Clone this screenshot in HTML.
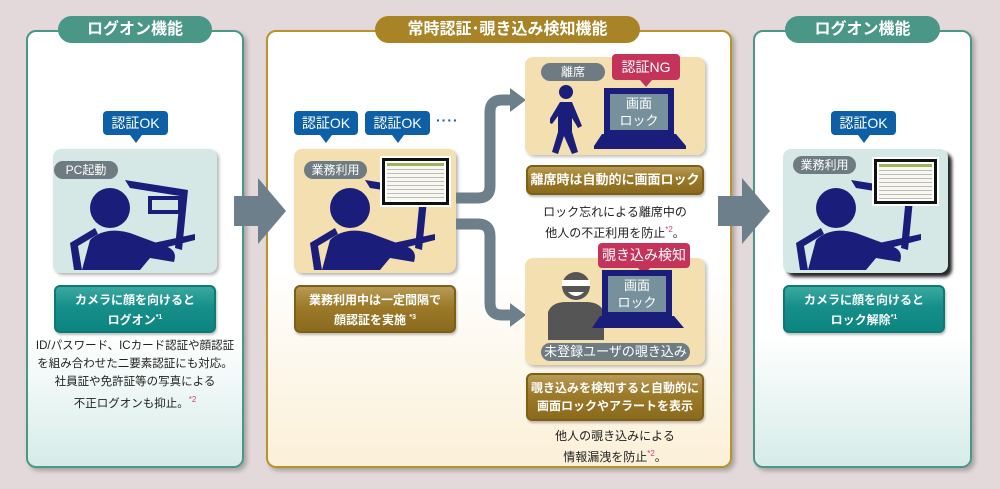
<!DOCTYPE html>
<html><head><meta charset="utf-8"><style>
*{margin:0;padding:0;box-sizing:border-box}
body{width:1000px;height:489px;background:#e3d9da;position:relative;overflow:hidden;font-family:"Liberation Sans","Noto Sans CJK JP",sans-serif}
.a{position:absolute}
.panel{position:absolute;border-radius:10px;box-shadow:3px 3px 4px rgba(0,0,0,.25)}
.title{position:absolute;height:27px;border-radius:14px;color:#fff;font-weight:bold;font-size:16px;text-align:center;line-height:27px}
.ok{position:absolute;height:24px;background:#0d5fa6;color:#fff;border-radius:4px;font-size:14px;text-align:center;line-height:24px}
.ok:after{content:"";position:absolute;left:50%;bottom:-8px;margin-left:-6px;border-left:6px solid transparent;border-right:6px solid transparent;border-top:8px solid #0d5fa6}
.pill{position:absolute;height:18px;border-radius:9px;background:#6e7b82;color:#fff;font-size:12px;text-align:center;line-height:18px}
.btn{position:absolute;border-radius:6px;color:#fff;font-weight:bold;font-size:12px;text-align:center;line-height:18px;box-shadow:1px 2px 2px rgba(0,0,0,.25);white-space:nowrap}
.teal{background:linear-gradient(#3ba8a0 0,#168f8a 45%,#0c8580 100%);border:2px solid #0e7a76}
.gold{background:linear-gradient(#b89a55 0,#9c7a28 45%,#8a6a1e 100%);border:2px solid #7d5f16}
.txt{position:absolute;font-size:12px;color:#222;text-align:center;line-height:18px;white-space:nowrap}
.txt sup{color:#d0407a;font-size:8px}
.shot{position:absolute;background:#fff;border:3px solid #111;outline:2px solid #fff}
.shot i{position:absolute;left:2px;right:2px;top:2px;bottom:2px;background:repeating-linear-gradient(#f8f8f0 0 3px,#bbb 3px 4px);border-top:3px solid #9cb45a}
.pink{position:absolute;background:#c4335a;color:#fff;border-radius:4px;font-size:14px;text-align:center}
.pink:after{content:"";position:absolute;left:50%;bottom:-7px;margin-left:-6px;border-left:6px solid transparent;border-right:6px solid transparent;border-top:7px solid #c4335a}
</style></head><body>

<!-- left panel -->
<div class="panel" style="left:26px;top:30px;width:218px;height:438px;border:2px solid #4a9788;background:linear-gradient(#fff 0,#fff 70%,#d6ece8 100%)"></div>
<div class="title" style="left:58px;top:16px;width:154px;background:#4a9788">ログオン機能</div>
<div class="ok" style="left:103px;top:111px;width:65px">認証OK</div>
<div class="a" style="left:53px;top:149px;width:164px;height:124px;background:#d6e8e6;border-radius:8px;box-shadow:2px 2px 3px rgba(0,0,0,.3)"></div>
<div class="pill" style="left:54px;top:161px;width:64px">PC起動</div>
<svg class="a" style="left:70px;top:178px" width="130" height="92" viewBox="0 0 130 92">
<g fill="#1b1d7a"><polygon points="55,2 118,12 112,72 105,70 110,18 60,10"/><rect x="80" y="20" width="30" height="14" fill="none" stroke="#1b1d7a" stroke-width="4"/><circle cx="40" cy="30" r="20"/><path d="M12,92 L20,62 Q35,48 60,55 L95,68 Q108,72 104,84 L80,80 L70,92 Z"/><polygon points="0,65 25,50 28,56 8,68 12,92 4,92"/><polygon points="60,70 125,56 125,62 70,76"/></g></svg>
<div class="btn teal" style="left:54px;top:285px;width:162px;height:48px;padding-top:4px">カメラに顔を向けると<br>ログオン<sup style="font-size:7px">*1</sup></div>
<div class="txt" style="left:26px;top:337px;width:218px;font-size:11.5px">ID/パスワード、ICカード認証や顔認証<br>を組み合わせた二要素認証にも対応。<br>社員証や免許証等の写真による<br>不正ログオンも抑止。<sup>*2</sup></div>

<!-- middle panel -->
<div class="panel" style="left:266px;top:30px;width:466px;height:438px;border:2px solid #b8922a;background:linear-gradient(#fff 0,#fff 55%,#fbf0d8 100%)"></div>
<div class="title" style="left:375px;top:16px;width:265px;background:#a88426">常時認証･覗き込み検知機能</div>
<div class="ok" style="left:294px;top:111px;width:64px">認証OK</div>
<div class="ok" style="left:365px;top:111px;width:65px">認証OK</div>
<div class="a" style="left:436px;top:112px;font-size:14px;color:#0d5fa6;font-weight:bold;letter-spacing:1px">····</div>
<div class="a" style="left:294px;top:149px;width:162px;height:124px;background:#f3dfb0;border-radius:8px;box-shadow:2px 2px 3px rgba(0,0,0,.3)"></div>
<div class="pill" style="left:304px;top:161px;width:63px">業務利用</div>
<svg class="a" style="left:310px;top:178px" width="130" height="92" viewBox="0 0 130 92">
<g fill="#1b1d7a"><polygon points="55,2 118,12 112,72 105,70 110,18 60,10"/><circle cx="40" cy="30" r="20"/><path d="M12,92 L20,62 Q35,48 60,55 L95,68 Q108,72 104,84 L80,80 L70,92 Z"/><polygon points="0,65 25,50 28,56 8,68 12,92 4,92"/><polygon points="60,70 125,56 125,62 70,76"/></g></svg>
<div class="shot" style="left:382px;top:158px;width:67px;height:47px"><i></i></div>
<div class="btn gold" style="left:294px;top:285px;width:162px;height:48px;padding-top:4px">業務利用中は一定間隔で<br>顔認証を実施 <sup style="font-size:7px">*3</sup></div>

<!-- connectors -->
<svg class="a" style="left:450px;top:85px" width="80" height="250">
<path d="M6,113 H28 Q40,113 40,101 V27 Q40,15 52,15 H62" fill="none" stroke="#6c7f8a" stroke-width="11"/>
<polygon points="60,3 76,15 60,27" fill="#6c7f8a"/>
<path d="M6,139 H28 Q40,139 40,151 V218 Q40,230 52,230 H62" fill="none" stroke="#6c7f8a" stroke-width="11"/>
<polygon points="60,218 76,230 60,242" fill="#6c7f8a"/>
</svg>

<!-- top sub -->
<div class="a" style="left:525px;top:57px;width:180px;height:98px;background:#f3dfb0;border-radius:8px;box-shadow:2px 2px 3px rgba(0,0,0,.25)"></div>
<div class="pill" style="left:541px;top:63px;width:64px">離席</div>
<div class="pink" style="left:612px;top:54px;width:68px;height:26px;line-height:26px">認証NG</div>
<svg class="a" style="left:550px;top:84px" width="150" height="70">
<g fill="#1b1d7a"><circle cx="16" cy="8" r="7"/><path d="M10,18 L22,18 L32,42 L28,44 L22,34 L22,48 L28,68 L22,70 L14,52 L8,70 L2,68 L8,48 L8,32 L2,40 L-2,38 Z"/></g>
<rect x="54" y="4" width="70" height="46" fill="#1b1d7a"/><rect x="60" y="10" width="58" height="36" fill="#76909c"/>
<polygon points="44,62 136,62 126,50 52,50" fill="#1b1d7a"/><rect x="44" y="62" width="92" height="3" fill="#1b1d7a"/>
<text x="89" y="24" fill="#fff" font-size="13" text-anchor="middle" font-family="Liberation Sans,Noto Sans CJK JP,sans-serif">画面</text>
<text x="89" y="41" fill="#fff" font-size="13" text-anchor="middle" font-family="Liberation Sans,Noto Sans CJK JP,sans-serif">ロック</text></svg>
<div class="btn gold" style="left:526px;top:165px;width:178px;height:30px;line-height:26px;font-size:13px">離席時は自動的に画面ロック</div>
<div class="txt" style="left:525px;top:203px;width:180px">ロック忘れによる離席中の<br>他人の不正利用を防止<sup>*2</sup>。</div>

<!-- bottom sub -->
<div class="a" style="left:525px;top:258px;width:180px;height:107px;background:#f3dfb0;border-radius:8px;box-shadow:2px 2px 3px rgba(0,0,0,.25)"></div>
<div class="pink" style="left:598px;top:243px;width:92px;height:25px;line-height:25px">覗き込み検知</div>
<svg class="a" style="left:548px;top:268px" width="150" height="72">
<circle cx="28" cy="18" r="14" fill="#555"/><rect x="14" y="12" width="28" height="6" fill="#fff"/><path d="M20,24 Q28,32 36,24" fill="#fff"/>
<path d="M0,72 L0,44 Q4,34 18,34 L38,34 Q52,34 56,44 L56,72 Z" fill="#555"/>
<rect x="54" y="2" width="70" height="46" fill="#1b1d7a"/><rect x="60" y="8" width="58" height="36" fill="#76909c"/>
<polygon points="44,60 136,60 126,48 52,48" fill="#1b1d7a"/>
<text x="89" y="22" fill="#fff" font-size="13" text-anchor="middle" font-family="Liberation Sans,Noto Sans CJK JP,sans-serif">画面</text>
<text x="89" y="39" fill="#fff" font-size="13" text-anchor="middle" font-family="Liberation Sans,Noto Sans CJK JP,sans-serif">ロック</text></svg>
<div class="pill" style="left:541px;top:343px;width:149px;height:18px;font-size:13px">未登録ユーザの覗き込み</div>
<div class="btn gold" style="left:526px;top:373px;width:178px;height:48px;padding-top:4px;font-size:12px">覗き込みを検知すると自動的に<br>画面ロックやアラートを表示</div>
<div class="txt" style="left:525px;top:427px;width:180px">他人の覗き込みによる<br>情報漏洩を防止<sup>*2</sup>。</div>

<!-- right panel -->
<div class="panel" style="left:753px;top:30px;width:219px;height:438px;border:2px solid #4a9788;background:linear-gradient(#fff 0,#fff 70%,#d6ece8 100%)"></div>
<div class="title" style="left:785px;top:16px;width:155px;background:#4a9788">ログオン機能</div>
<div class="ok" style="left:831px;top:111px;width:65px">認証OK</div>
<div class="a" style="left:783px;top:149px;width:165px;height:124px;background:#d6e8e6;border-radius:8px;box-shadow:4px 4px 3px rgba(0,0,0,.85)"></div>
<div class="pill" style="left:793px;top:156px;width:63px">業務利用</div>
<svg class="a" style="left:796px;top:178px" width="130" height="92" viewBox="0 0 130 92">
<g fill="#1b1d7a"><polygon points="55,2 118,12 112,72 105,70 110,18 60,10"/><circle cx="40" cy="30" r="20"/><path d="M12,92 L20,62 Q35,48 60,55 L95,68 Q108,72 104,84 L80,80 L70,92 Z"/><polygon points="0,65 25,50 28,56 8,68 12,92 4,92"/><polygon points="60,70 125,56 125,62 70,76"/></g></svg>
<div class="shot" style="left:874px;top:159px;width:63px;height:45px"><i></i></div>
<div class="btn teal" style="left:783px;top:285px;width:162px;height:48px;padding-top:4px">カメラに顔を向けると<br>ロック解除<sup style="font-size:7px">*1</sup></div>

<!-- arrows (on top) -->
<svg class="a" style="left:234px;top:178px" width="52" height="66"><polygon points="0,18 24,18 24,0 52,33 24,66 24,48 0,48" fill="#6c7f8a"/></svg>
<svg class="a" style="left:718px;top:178px" width="52" height="66"><polygon points="0,18 24,18 24,0 52,33 24,66 24,48 0,48" fill="#6c7f8a"/></svg>
</body></html>
